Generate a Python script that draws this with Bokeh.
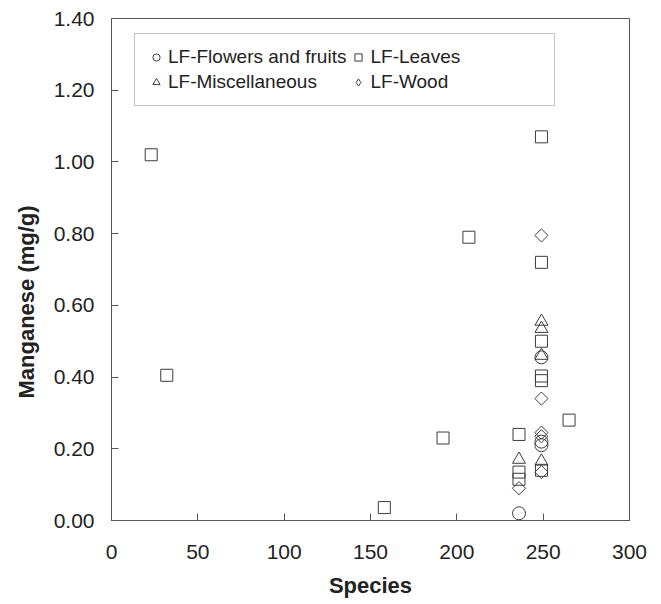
import numpy as np
from bokeh.plotting import figure
from bokeh.models import (Range1d, FixedTicker, PrintfTickFormatter, Legend, LegendItem, Title)
from bokeh.embed import file_html
from bokeh.resources import INLINE

# ---- data ----
flowers_x = [236, 249, 249, 249]
flowers_y = [0.02, 0.455, 0.22, 0.21]

leaves_x = [23, 32, 158, 192, 207, 236, 236, 236, 249, 249, 249, 249, 249, 249, 265]
leaves_y = [1.02, 0.405, 0.036, 0.23, 0.79, 0.24, 0.135, 0.115, 1.07, 0.72, 0.50, 0.403, 0.39, 0.14, 0.28]

misc_x = [236, 249, 249, 249, 249]
misc_y = [0.17, 0.555, 0.535, 0.46, 0.165]

wood_x = [236, 249, 249, 249, 249, 249]
wood_y = [0.09, 0.795, 0.34, 0.245, 0.235, 0.135]

x_ticks = [0, 50, 100, 150, 200, 250, 300]
y_ticks = [0.0, 0.2, 0.4, 0.6, 0.8, 1.0, 1.2, 1.4]

x_title = "Species"
y_title = "Manganese (mg/g)"

FONT = "Liberation Sans"
TEXT = "#222222"
AXIS = "#555555"
MK = "#3c3c3c"

p = figure(width=661, height=604, output_backend="svg", toolbar_location=None,
           x_range=Range1d(0, 300), y_range=Range1d(0, 1.4),
           min_border_left=111, min_border_right=32, min_border_top=18, min_border_bottom=84)
p.grid.visible = False
p.outline_line_color = AXIS
p.outline_line_width = 1

r1 = p.scatter(flowers_x, flowers_y, marker="circle", size=13, fill_alpha=0,
               line_color=MK, line_width=1)
r2 = p.scatter(leaves_x, leaves_y, marker="square", size=12, fill_alpha=0,
               line_color=MK, line_width=1)
r3 = p.scatter(misc_x, misc_y, marker="triangle", size=13, fill_alpha=0,
               line_color=MK, line_width=1)
p.scatter(wood_x, wood_y, marker="square", angle=np.pi / 4, size=9.3, fill_alpha=0,
          line_color=MK, line_width=1)
# diamond glyph for the legend entry (zero size in the plot itself)
r4 = p.scatter(wood_x, wood_y, marker="diamond", size=0, fill_alpha=0,
               line_color=MK, line_width=1)

for ax in (p.xaxis[0], p.yaxis[0]):
    ax.axis_line_color = AXIS
    ax.major_tick_line_color = AXIS
    ax.major_tick_in = 7
    ax.major_tick_out = 0
    ax.minor_tick_line_color = None
    ax.major_label_text_font = FONT
    ax.major_label_text_font_size = "21px"
    ax.major_label_text_color = TEXT

p.xaxis.ticker = FixedTicker(ticks=x_ticks)
p.yaxis.ticker = FixedTicker(ticks=y_ticks)
p.yaxis.formatter = PrintfTickFormatter(format="%.2f")
p.xaxis.major_label_standoff = 24
p.yaxis.major_label_standoff = 17

p.xaxis.axis_label = x_title
p.xaxis.axis_label_text_font = FONT
p.xaxis.axis_label_text_font_size = "22px"
p.xaxis.axis_label_text_font_style = "bold"
p.xaxis.axis_label_text_color = TEXT
p.xaxis.axis_label_standoff = 11

p.add_layout(Title(text=y_title, align="left", vertical_align="top", offset=122,
                   standoff=20, text_font=FONT, text_font_size="22px",
                   text_font_style="bold", text_color=TEXT), "left")

legend = Legend(items=[
    LegendItem(label="LF-Flowers and fruits", renderers=[r1]),
    LegendItem(label="LF-Leaves", renderers=[r2]),
    LegendItem(label="LF-Miscellaneous", renderers=[r3]),
    LegendItem(label="LF-Wood", renderers=[r4]),
], location=(23, 414), orientation="horizontal", ncols=2,
    label_text_font=FONT, label_text_font_size="19px", label_text_color=TEXT,
    border_line_color="#888888", border_line_width=1,
    padding=12, spacing=3, label_standoff=3, glyph_width=18, glyph_height=20,
    label_width=172, background_fill_alpha=0)
p.add_layout(legend, "center")

open("out.html", "w").write(file_html(p, INLINE))
